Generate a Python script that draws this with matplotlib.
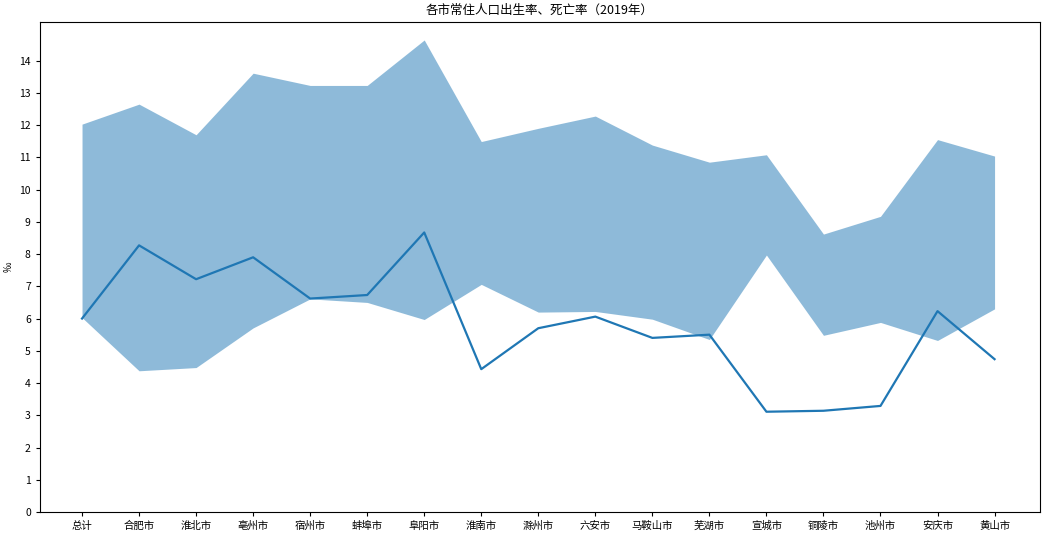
import matplotlib
matplotlib.use("Agg")
import matplotlib.pyplot as plt

plt.rcParams['font.family'] = ['Noto Sans CJK SC', 'DejaVu Sans']
plt.rcParams['axes.unicode_minus'] = False

cities = ["总计", "合肥市", "淮北市", "亳州市", "宿州市", "蚌埠市", "阜阳市", "淮南市", "滁州市",
          "六安市", "马鞍山市", "芜湖市", "宣城市", "铜陵市", "池州市", "安庆市", "黄山市"]
birth = [12.03, 12.65, 11.70, 13.61, 13.23, 13.23, 14.64, 11.49, 11.90,
         12.28, 11.38, 10.85, 11.08, 8.62, 9.17, 11.55, 11.04]
death = [6.03, 4.38, 4.48, 5.71, 6.61, 6.50, 5.97, 7.06, 6.20,
         6.22, 5.98, 5.35, 7.97, 5.48, 5.88, 5.32, 6.30]
growth = [6.00, 8.27, 7.22, 7.90, 6.62, 6.73, 8.67, 4.43, 5.70,
          6.06, 5.40, 5.50, 3.11, 3.14, 3.29, 6.23, 4.74]


def plot_rates():
    fig, ax = plt.subplots(figsize=(10.48, 5.35), dpi=100)
    fig.subplots_adjust(left=0.038, right=0.992, top=0.959, bottom=0.043)

    ax.fill_between(cities, birth, death, color="#1f77b4", alpha=0.5, linewidth=0)
    ax.plot(cities, growth, color="#1f77b4", linewidth=1.6)

    ax.set_title("各市常住人口出生率、死亡率（2019年）", fontsize=9)
    ax.set_ylabel("‰", fontsize=7.5)
    ax.set_xlim(-0.74, len(cities) - 1 + 0.79)
    ax.set_ylim(0, 15.2)
    ax.set_yticks(range(0, 15))
    ax.tick_params(labelsize=7.5, length=3)
    return fig


def main():
    fig = plot_rates()
    fig.savefig("out.png", dpi=100)


if __name__ == '__main__':
    main()
